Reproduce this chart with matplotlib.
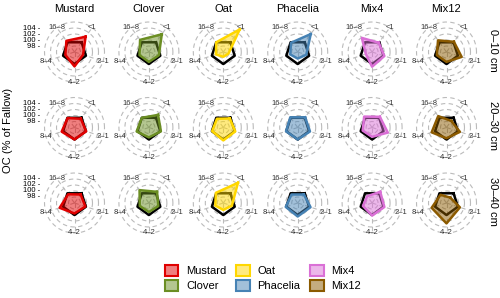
import matplotlib
matplotlib.use("Agg")
import matplotlib.pyplot as plt
from matplotlib.patches import Patch
import numpy as np

plt.rcParams['font.family'] = ['Liberation Sans', 'DejaVu Sans']

# axes of the radar, order: <1, 2–1, 4–2, 8–4, 16–8
axis_labels = ['<1', '2\u20131', '4\u20132', '8\u20134', '16\u20138']
axis_angles_deg = [54, -18, -90, 198, 126]

treatments = ['Mustard', 'Clover', 'Oat', 'Phacelia', 'Mix4', 'Mix12']
depths = ['0\u201310 cm', '20\u201330 cm', '30\u201340 cm']
colors = ['#E00000', '#6B8E23', '#FFD700', '#4682B4', '#DA70D6', '#8B5A00']

fallow = [100, 100, 100, 100, 100]

# OC (% of fallow) per depth, per treatment
oc_0_10 = {
    'Mustard':  [102.3, 99.0, 100.8, 99.2, 100.6],
    'Clover':   [103.3, 99.5, 99.3, 99.3, 101.0],
    'Oat':      [105.3, 97.8, 97.6, 98.6, 100.0],
    'Phacelia': [103.4, 99.0, 98.2, 98.6, 99.8],
    'Mix4':     [99.8, 100.3, 100.9, 98.2, 101.8],
    'Mix12':    [100.2, 101.3, 99.3, 99.4, 100.8],
}
oc_20_30 = {
    'Mustard':  [99.6, 100.1, 100.0, 100.5, 99.9],
    'Clover':   [101.2, 100.2, 99.3, 100.3, 100.0],
    'Oat':      [99.7, 100.2, 100.3, 99.9, 99.6],
    'Phacelia': [100.2, 100.3, 100.0, 100.1, 100.2],
    'Mix4':     [100.4, 101.5, 99.1, 99.3, 100.5],
    'Mix12':    [98.7, 100.7, 99.6, 101.2, 100.7],
}
oc_30_40 = {
    'Mustard':  [99.5, 99.8, 99.5, 101.2, 99.6],
    'Clover':   [100.6, 99.3, 99.0, 99.2, 101.3],
    'Oat':      [104.3, 99.0, 98.3, 98.8, 100.2],
    'Phacelia': [99.5, 100.5, 100.5, 100.2, 99.5],
    'Mix4':     [100.6, 100.3, 100.2, 99.2, 98.8],
    'Mix12':    [98.2, 100.7, 102.8, 101.2, 99.4],
}
all_data = [oc_0_10, oc_20_30, oc_30_40]

ring_values = [98, 100, 102, 104, 106]
tick_values = [104, 102, 100, 98]
r_min, r_max = 96, 107

W, H = 500, 298
fig = plt.figure(figsize=(W / 100, H / 100), dpi=100)

col_x = [74.5 + 74.4 * i for i in range(6)]
row_y = [52, 127.5, 203]
half = 33

theta = np.deg2rad(axis_angles_deg)
theta_closed = np.append(theta, theta[0])
circle_t = np.linspace(0, 2 * np.pi, 200)

for r, (cy, data) in enumerate(zip(row_y, all_data)):
    for c, (cx, name) in enumerate(zip(col_x, treatments)):
        ax = fig.add_axes([(cx - half) / W, 1 - (cy + half) / H, 2 * half / W, 2 * half / H],
                          projection='polar')
        ax.set_ylim(r_min, r_max)
        ax.set_axis_off()
        # grid rings and spokes
        for rv in ring_values:
            ax.plot(circle_t, np.full_like(circle_t, rv), ls=(0, (4, 3)), color='#BBBBBB', lw=0.8, zorder=1)
        for t in theta:
            ax.plot([t, t], [r_min, 106], ls=(0, (4, 3)), color='#BBBBBB', lw=0.8, zorder=1)
        for t, lab in zip(theta, axis_labels):
            ax.text(t, 106, lab, ha='center', va='center', fontsize=5.5, color='#333333', zorder=2)
        # fallow reference
        fv = np.append(fallow, fallow[0])
        ax.plot(theta_closed, fv, color='black', lw=1.8, zorder=3)
        vals = data[name]
        vv = np.append(vals, vals[0])
        ax.fill(theta_closed, vv, color=colors[c], alpha=0.5, lw=0, zorder=4)
        ax.plot(theta_closed, vv, color=colors[c], lw=1.8, zorder=5)
        if c == 0:
            for tv in tick_values:
                ax.annotate(f'{tv} -', xy=(np.pi / 2, tv), xycoords='data',
                            xytext=(-34, 0), textcoords='offset pixels',
                            ha='right', va='center', fontsize=5.5, color='black')

for cx, name in zip(col_x, treatments):
    fig.text(cx / W, 1 - 9 / H, name, ha='center', va='center', fontsize=8)

for cy, d in zip(row_y, depths):
    fig.text(493 / W, 1 - (cy - 2) / H, d, ha='center', va='center', rotation=-90, fontsize=8)

fig.text(8 / W, 1 - 130 / H, 'OC (% of Fallow)', ha='center', va='center', rotation=90, fontsize=8)

handles = [Patch(facecolor=matplotlib.colors.to_rgba(col, 0.5), edgecolor=col, lw=1.5, label=t)
           for t, col in zip(treatments, colors)]
fig.legend(handles=handles, loc='center', bbox_to_anchor=(263 / W, 1 - 278 / H), ncol=3,
           frameon=False, fontsize=8, handlelength=1.2, handleheight=1.2,
           handletextpad=0.7, columnspacing=0.9, labelspacing=0.35)

fig.savefig('out.png', dpi=100)
